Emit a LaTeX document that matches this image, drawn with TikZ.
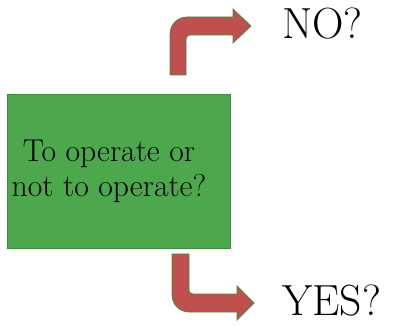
\documentclass[tikz,border=0pt]{standalone}
\usepackage{tikz}

\definecolor{boxgreen}{RGB}{76,167,77}
\definecolor{edgegreen}{RGB}{62,140,66}
\definecolor{arrowred}{RGB}{192,80,77}

\begin{document}
\begin{tikzpicture}[x=0.025cm, y=-0.025cm,
    box/.style={draw=edgegreen, fill=boxgreen, line width=0.6pt,
      minimum width=5.575cm, minimum height=3.85cm, inner sep=0pt},
    answer/.style={anchor=base west, inner sep=0pt, font=\fontsize{31}{36}\selectfont},
    bentarrow/.style={draw=edgegreen, fill=arrowred, line width=0.5pt, line join=miter}]
        \useasboundingbox (0, 0) rectangle (394, 327);
        \node[box] (question) at (118.5, 171) {};
        \node[align=center, inner sep=0pt, font=\fontsize{22.5}{24.8}\selectfont]
          (qtext) at (109, 171) {To operate or\\not to operate?};
        \node[answer] (no) at (282, 39) {NO?};
        \node[answer] (yes) at (282, 315) {YES?};
        % upper bent arrow
        \draw[bentarrow] (170, 75) -- (170, 34)
          arc[start angle=180, end angle=270, radius=17] -- (233, 17)
          -- (233, 9) -- (251, 26) -- (233, 43) -- (233, 35) -- (190, 35)
          arc[start angle=270, end angle=180, radius=4] -- (186, 75) -- cycle;
        % lower bent arrow
        \draw[bentarrow] (172, 254) -- (172, 295)
          arc[start angle=180, end angle=90, radius=17] -- (237, 312)
          -- (237, 320) -- (254, 303) -- (237, 286) -- (237, 294) -- (193, 294)
          arc[start angle=90, end angle=180, radius=4] -- (189, 254) -- cycle;
      \end{tikzpicture}
\end{document}
